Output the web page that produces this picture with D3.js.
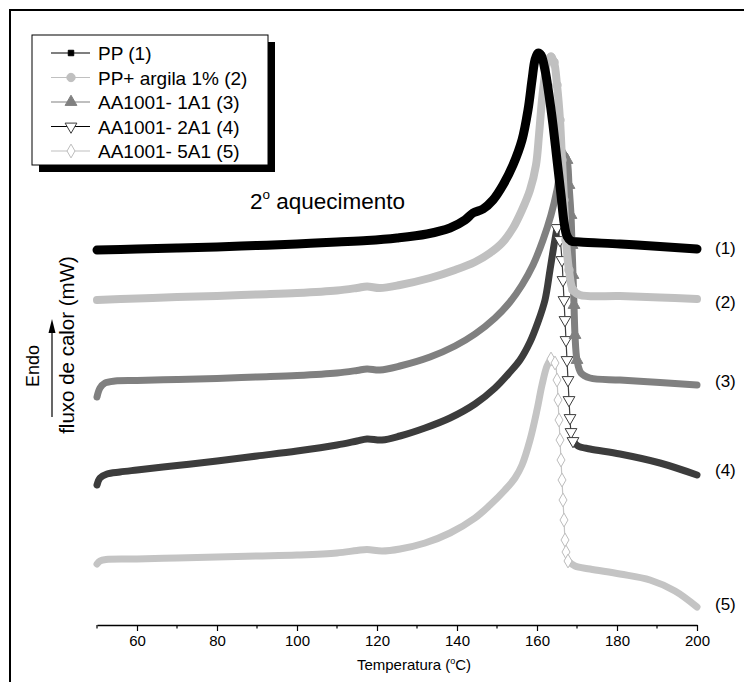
<!DOCTYPE html>
<html><head><meta charset="utf-8">
<script src="https://cdn.jsdelivr.net/npm/d3@7"></script>
<style>
html,body{margin:0;padding:0;background:#fff;}
text{font-family:"Liberation Sans",Arial,sans-serif;}
</style></head>
<body>
<svg id="chart" width="744" height="682"></svg>
<script>
// ---- data (temperature °C, heat flow arbitrary mW offset) ----
const xTicks = [60, 80, 100, 120, 140, 160, 180, 200];
const xMinorTicks = [50, 70, 90, 110, 130, 150, 170, 190];
const seriesNames = ["PP (1)", "PP+ argila 1% (2)", "AA1001- 1A1 (3)", "AA1001- 2A1 (4)", "AA1001- 5A1 (5)"];
const endLabels = ["(1)", "(2)", "(3)", "(4)", "(5)"];

const pp = [[50,37.5],[60,37.6],[70,37.7],[80,37.8],[90,37.95],[100,38.1],[110,38.3],[117.5,38.45],[125,38.7],[132.5,39.1],[138.25,39.7],[142,40.5],[144,41.2],[146.5,41.6],[149,42.5],[151.5,44.0],[154,46.0],[156.25,48.5],[157.75,51.5],[158.75,54.5],[159.5,56.5],[160.25,57.2],[161,57.0],[162,55.5],[163,53],[164,50],[165,46.5],[166,43],[166.75,40.3],[167.5,38.9],[168.5,38.4],[170.75,38.3],[180.75,38.1],[190.75,37.85],[200,37.6]];
const ppArgila = [[50,32.5],[60,32.65],[70,32.8],[80,32.9],[90,33.05],[100,33.2],[110,33.45],[115,33.7],[117.5,33.85],[120.75,33.7],[125.75,34.0],[133.25,34.7],[139.5,35.5],[144.5,36.3],[148.25,37.2],[151.25,38.2],[154,39.7],[156.25,41.5],[158.25,43.5],[159.75,46],[160.5,49],[161.25,52.5],[162,55],[162.75,56.5],[163.5,56.8],[164.25,56.3],[165,54],[165.75,50.5],[166.25,46.5],[166.75,42.5],[167.25,38.5],[168,35.5],[169,33.5],[170.75,33],[180.75,32.9],[190.75,32.75],[200,32.6]];
const aa1A1 = [[50,22.8],[50.75,23.7],[52,24.2],[54.5,24.4],[60,24.45],[70,24.55],[80,24.65],[90,24.8],[100,24.95],[110,25.2],[115,25.45],[117.5,25.6],[120.75,25.5],[125.75,25.9],[133.25,26.8],[139.5,27.9],[144.5,29.1],[149.5,30.7],[153.25,32.3],[156.25,34],[159,36],[161.5,38.5],[163.5,41],[165,43.5],[166,46],[166.75,47],[167.5,46.5],[168,44],[168.5,41],[168.75,38],[169,35],[169.25,32],[169.5,29],[170,26.5],[171,25.2],[173.25,24.7],[180.75,24.5],[190.75,24.25],[200,24]];
const aa2A1 = [[50,14],[50.75,14.7],[52.5,15.1],[55.75,15.3],[60,15.5],[70,15.95],[80,16.4],[90,16.9],[100,17.4],[110,18],[115,18.4],[117.5,18.6],[121.25,18.5],[125.75,18.9],[132,19.7],[138.25,20.7],[144.5,22.1],[149.5,23.7],[153.25,25.3],[155.75,26.5],[158.25,28.3],[160.25,30.3],[162,32.5],[163.25,35.5],[164.25,38],[165,39.7],[165.75,38.5],[166.25,36.5],[166.5,34.5],[166.75,32.5],[167,30.5],[167.25,28.5],[167.5,26.5],[167.75,24.5],[168,22.5],[168.25,20.7],[168.5,19.3],[169,18.4],[170.25,17.9],[173.25,17.6],[180.75,17.1],[190.75,16.2],[200,15]];
const aa5A1 = [[50,6.1],[50.75,6.4],[52.25,6.55],[60,6.6],[70,6.7],[80,6.8],[90,6.9],[100,7],[110,7.2],[115,7.45],[117.5,7.55],[121.25,7.4],[125.75,7.6],[132,8.2],[138.25,9.2],[144.5,10.7],[148.25,12],[152,13.5],[154.5,14.7],[156.25,16],[158.25,18.5],[160,21.5],[161.25,24],[162.5,25.9],[163.5,26.6],[164.5,26.2],[165,24.5],[165.25,22.5],[165.5,20.5],[165.75,18.5],[166,16.5],[166.25,14.5],[166.5,12.5],[166.75,10.5],[167,8.5],[167.25,7.3],[167.75,6.4],[169.5,5.9],[173.25,5.6],[180.75,5.1],[188.25,4.5],[194.5,3.4],[200,1.8]];

const allSeries = [pp, ppArgila, aa1A1, aa2A1, aa5A1];

// ---- styles ----
const styles = [
  {band:"#000000", bw:9, line:"#000000", sym:d3.symbolSquare, size:30, fill:"#000000", stroke:"#000000", legLine:"#000000", bandDrop:true},
  {band:"#c0c0c0", bw:8, line:"#c0c0c0", sym:d3.symbolCircle, size:55, fill:"#c0c0c0", stroke:"#c0c0c0", legLine:"#c0c0c0", bandDrop:true},
  {band:"#808080", bw:7, line:"#808080", sym:d3.symbolTriangle, size:60, fill:"#808080", stroke:"#808080", legLine:"#808080", bandDrop:true},
  {band:"#3c3c3c", bw:7, line:"#3c3c3c", sym:d3.symbolTriangle, size:60, fill:"#ffffff", stroke:"#3c3c3c", legLine:"#000000", flip:true},
  {band:"#c4c4c4", bw:7, line:"#c4c4c4", sym:d3.symbolDiamond, size:55, fill:"#ffffff", stroke:"#bdbdbd", legLine:"#c0c0c0"}
];

const svg = d3.select("#chart");
const x = d3.scaleLinear().domain([50, 200]).range([97, 697]);
const y = d3.scaleLinear().domain([0, 60]).range([625, 25]);

// outer frame
svg.append("rect").attr("x",10).attr("y",10).attr("width",760).attr("height",700)
  .attr("fill","none").attr("stroke","#000").attr("stroke-width",2);

const line = d3.line().x(d=>x(d[0])).y(d=>y(d[1])).curve(d3.curveCatmullRom.alpha(0.5));

function slope(a, b) { return Math.abs((b[1]-a[1])/(b[0]-a[0])); }

// draw series (from back to front: 5..1)
for (let i = allSeries.length - 1; i >= 0; i--) {
  const data = allSeries[i], st = styles[i];
  const peak = d3.maxIndex(data, d=>d[1]);
  let foot = peak + 2;
  while (foot < data.length - 1 && slope(data[foot], data[foot+1]) > 1.5) foot++;
  const g = svg.append("g");
  const rising = data.slice(0, peak+1), drop = data.slice(peak, foot+1), tail = data.slice(foot);
  const bandParts = st.bandDrop ? [data] : [rising, tail];
  bandParts.forEach(part => {
    g.append("path").attr("d", line(part)).attr("fill","none").attr("stroke",st.band)
      .attr("stroke-width",st.bw).attr("stroke-linejoin","round").attr("stroke-linecap","round");
  });
  if (!st.bandDrop) {
    g.append("path").attr("d", line(drop)).attr("fill","none").attr("stroke",st.line).attr("stroke-width",1.2);
  }
  g.selectAll("path.m").data(drop).join("path").attr("class","m")
    .attr("d", d3.symbol().type(st.sym).size(st.size))
    .attr("transform", d=>`translate(${x(d[0])},${y(d[1])})${st.flip?" rotate(180)":""}`)
    .attr("fill", st.fill).attr("stroke", st.stroke).attr("stroke-width",1);
}

// x axis
const ax = svg.append("g").attr("transform","translate(0,625)");
ax.call(d3.axisBottom(x).tickValues(xTicks).tickSize(6).tickSizeOuter(0).tickPadding(4).tickFormat(d3.format("d")));
ax.select(".domain").attr("stroke","#000").attr("stroke-width",1.5);
ax.selectAll(".tick line").attr("stroke","#000").attr("stroke-width",1.2);
ax.selectAll(".tick text").attr("font-size",15).attr("fill","#000").attr("font-family","Liberation Sans, Arial, sans-serif");
ax.selectAll("line.minor").data(xMinorTicks).join("line").attr("class","minor")
  .attr("x1",d=>x(d)).attr("x2",d=>x(d)).attr("y1",0).attr("y2",3.5).attr("stroke","#000").attr("stroke-width",1.2);

const title = svg.append("text").attr("x",414).attr("y",670).attr("text-anchor","middle").attr("font-size",15);
title.append("tspan").text("Temperatura (");
title.append("tspan").attr("font-size",9).attr("dy",-6).text("o");
title.append("tspan").attr("dy",6).text("C)");

// y label
svg.append("text").attr("transform","translate(39,366) rotate(-90)").attr("text-anchor","middle")
  .attr("font-size",18).text("Endo");
svg.append("text").attr("transform","translate(74,345) rotate(-90)").attr("text-anchor","middle")
  .attr("font-size",20.5).text("fluxo de calor (mW)");
svg.append("line").attr("x1",52).attr("x2",52).attr("y1",417).attr("y2",330).attr("stroke","#000").attr("stroke-width",1.2);
svg.append("path").attr("d","M52,319 L48.5,333 L55.5,333 Z").attr("fill","#000");

// annotation
const ann = svg.append("text").attr("x",250).attr("y",209).attr("font-size",22.5);
ann.append("tspan").text("2");
ann.append("tspan").attr("font-size",13.5).attr("dy",-10).text("o");
ann.append("tspan").attr("dy",10).text(" aquecimento");

// end labels
const endY = [248, 302, 381, 470, 604];
svg.selectAll("text.end").data(endLabels).join("text").attr("class","end")
  .attr("x",715).attr("y",(d,i)=>endY[i]+6).attr("font-size",17).text(d=>d);

// legend
const leg = svg.append("g");
leg.append("rect").attr("x",39).attr("y",42).attr("width",236).attr("height",130).attr("fill","#000");
leg.append("rect").attr("x",32).attr("y",35).attr("width",236).attr("height",130).attr("fill","#fff").attr("stroke","#000").attr("stroke-width",1);
seriesNames.forEach((name, i) => {
  const st = styles[i], cy = 53 + i*24.5;
  leg.append("line").attr("x1",51).attr("x2",90).attr("y1",cy).attr("y2",cy).attr("stroke",st.legLine).attr("stroke-width",1.2);
  leg.append("path").attr("d", d3.symbol().type(st.sym).size(st.size)())
    .attr("transform", `translate(71,${cy})${st.flip?" rotate(180)":""}`)
    .attr("fill", st.fill).attr("stroke", st.stroke).attr("stroke-width",1);
  leg.append("text").attr("x",98).attr("y",cy+7).attr("font-size",19).text(name);
});
</script>
</body></html>
